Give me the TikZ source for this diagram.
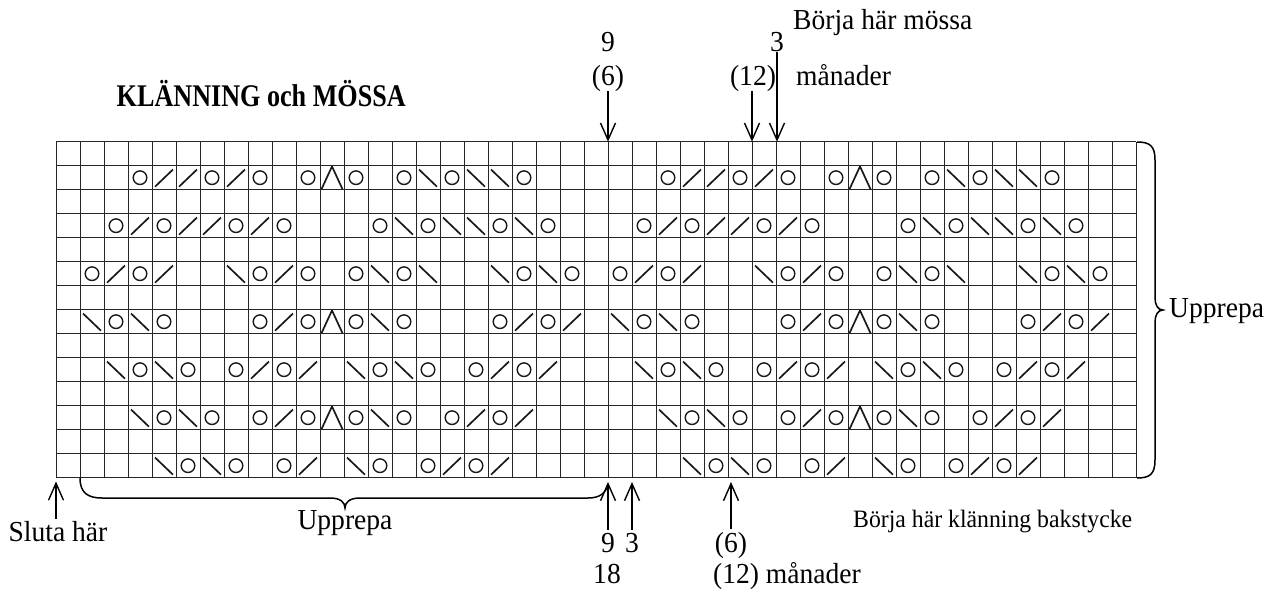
\documentclass[tikz,border=0pt]{standalone}
\usepackage{fontspec}
\setmainfont{Liberation Serif}[FakeStretch=0.95]
\newfontfamily\rubrikfont{Liberation Serif}[FakeStretch=0.83]
\usetikzlibrary{arrows.meta}

\tikzset{
  etikett/.style={font=\fontsize{29}{32}\selectfont, inner sep=0pt},
  pil/.style={-{Straight Barb[length=17pt,width=15pt]}, line width=1.4pt},
  klammer/.style={line width=1.5pt},
  ruta/.style={line width=0.9pt, black!85},
  tecken/.style={line width=1.7pt, black!90},
  omslag/.style={line width=1.4pt, black!90},
}

\begin{document}
\begin{tikzpicture}[x=1pt,y=-1pt]
\useasboundingbox (0,0) rectangle (1270,590);

% rutnat 45 x 14
\foreach \i in {0,...,45}
  \draw[ruta] ({56+24*\i},141.7) -- ({56+24*\i},477.7);
\foreach \j in {0,...,14}
  \draw[ruta] (56,{141.7+24*\j}) -- (1136,{141.7+24*\j});

% omslag
\foreach \r/\kol in {1/{3,6,8,10,12,14,16,19}, 3/{2,4,7,9,13,15,18,20},
    5/{1,3,8,10,12,14,19,21}, 7/{2,4,8,10,12,14,18,20}, 9/{3,5,7,9,13,15,17,19},
    11/{4,6,8,10,12,14,16,18}, 13/{5,7,9,13,15,17}}
  \foreach \c in \kol
    \foreach \k in {0,22}
      \draw[omslag] ({68+24*(\c+\k)},{153.7+24*\r}) circle (6.8pt);

% hogerlutande
\foreach \r/\kol in {1/{4,5,7}, 3/{3,5,6,8}, 5/{2,4,9}, 7/{9,19,21},
    9/{8,10,18,20}, 11/{9,17,19}, 13/{10,16,18}}
  \foreach \c in \kol
    \foreach \k in {0,22}
      \draw[tecken] ({59+24*(\c+\k)},{162.7+24*\r}) -- ({77+24*(\c+\k)},{145.5+24*\r});

% vansterlutande
\foreach \r/\kol in {1/{15,17,18}, 3/{14,16,17,19}, 5/{7,13,15,18,20}, 7/{1,3,13},
    9/{2,4,12,14}, 11/{3,5,13}, 13/{4,6,12}}
  \foreach \c in \kol
    \foreach \k in {0,22}
      \draw[tecken] ({59+24*(\c+\k)},{145.5+24*\r}) -- ({77+24*(\c+\k)},{162.7+24*\r});

% dubbel intagning
\foreach \r in {1,7,11}
  \foreach \k in {11,33}
    \draw[tecken, line join=round] ({57.5+24*\k},{165.2+24*\r}) -- ({68+24*\k},{142.4+24*\r})
      -- ({78.5+24*\k},{165.2+24*\r});

\node[etikett, anchor=base east, font=\rubrikfont\bfseries\fontsize{31.5}{34}\selectfont]
  (rubrik) at (406,106) {KLÄNNING och MÖSSA};

% overst
\node[etikett, anchor=base west] (startmossa) at (793,29.5) {Börja här mössa};
\node[etikett, anchor=base] (t9) at (608,51.7) {9};
\node[etikett, anchor=base] (t6) at (608,85) {(6)};
\node[etikett, anchor=base] (t3) at (777,51.7) {3};
\node[etikett, anchor=base] (t12) at (753,85) {(12)};
\node[etikett, anchor=base west] (tmanader) at (796,85) {månader};
\coordinate (m9) at (608,141.7);
\coordinate (m12) at (752,141.7);
\coordinate (m3) at (777,141.7);
\draw[pil] (t6.south) -- (m9);
\draw[pil] (t12.south -| m12) -- (m12);
\draw[pil] (t3.south) -- (m3);

% nederst
\node[etikett, anchor=base] (sluta) at (58,541) {Sluta här};
\node[etikett, anchor=base] (uppnere) at (345,529) {Upprepa};
\node[etikett, anchor=base] (b9) at (608,552) {9};
\node[etikett, anchor=base] (b3) at (632,552) {3};
\node[etikett, anchor=base] (b18) at (607,583.5) {18};
\node[etikett, anchor=base] (b6) at (731,552) {(6)};
\node[etikett, anchor=base west] (b12) at (713,583.5) {(12) månader};
\node[etikett, anchor=base west, font=\fontsize{25}{28}\selectfont] (startklanning) at (853,527) {Börja här klänning bakstycke};
\node[etikett, anchor=base west] (upphoger) at (1169,317) {Upprepa};
\coordinate (s0) at (56,481.5);
\coordinate (s9) at (608,482);
\coordinate (s3) at (632,482);
\coordinate (s6) at (731,482);
\draw[pil, shorten <=2pt] (sluta.north -| s0) -- (s0);
\draw[pil, shorten <=3pt] (b9.north) -- (s9);
\draw[pil, shorten <=3pt] (b3.north) -- (s3);
\draw[pil, shorten <=2.5pt] (b6.north) -- (s6);

% klammer
\draw[klammer] (80,478) .. controls (80,493) and (88,498) .. (102,498)
  -- (330,498) .. controls (340,498) and (345,502) .. (345,508)
  .. controls (345,502) and (350,498) .. (360,498)
  -- (588,498) .. controls (600,498) and (606,493) .. (608,484);
\draw[klammer] (1137,142) .. controls (1150,142) and (1155,146) .. (1155,160)
  -- (1155,298) .. controls (1155,305) and (1158,310) .. (1163,310)
  .. controls (1158,310) and (1155,315) .. (1155,322)
  -- (1155,460) .. controls (1155,474) and (1150,478) .. (1137,478);
\end{tikzpicture}
\end{document}
